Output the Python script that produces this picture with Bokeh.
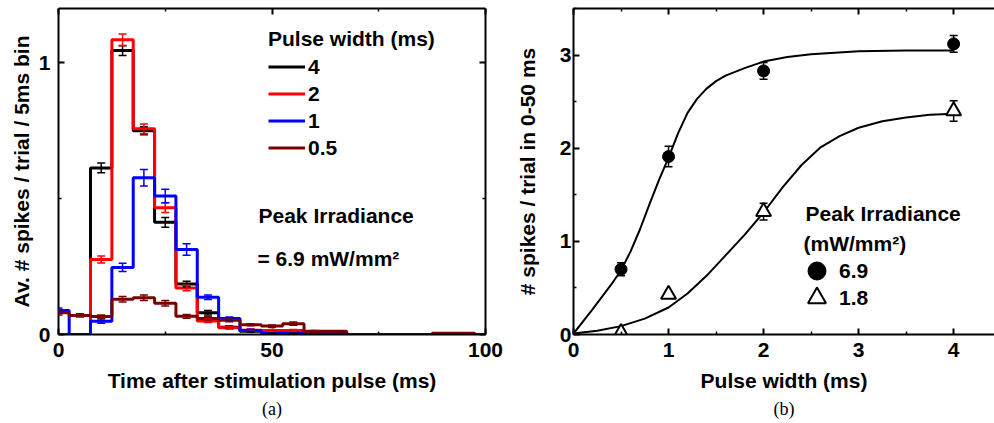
from bokeh.plotting import figure
from bokeh.models import (ColumnDataSource, Whisker, TeeHead, Legend, LegendItem,
                          Label, LinearAxis, FixedTicker, Range1d, Title)
from bokeh.layouts import row
from bokeh.embed import file_html
from bokeh.resources import INLINE

# ---------------- data: panel (a) ----------------
bin_centers = [0, 5, 10, 15, 20, 25, 30, 35, 40, 45, 50, 55, 60, 65, 70, 75, 80, 85, 90, 95, 100]
pw_4ms   = [0, 0, 0.613, 1.045, 0.75, 0.413, 0.186, 0.08, 0.027, 0.012, 0.008, 0.008, 0, 0, 0, 0, 0, 0, 0, 0, 0]
pw_2ms   = [0, 0, 0.276, 1.085, 0.757, 0.467, 0.171, 0.05, 0.025, 0.016, 0.015, 0.015, 0, 0, 0, 0, 0, 0, 0, 0, 0]
pw_1ms   = [0.088, 0, 0.049, 0.247, 0.577, 0.51, 0.313, 0.137, 0.059, 0.015, 0.005, 0.005, 0.005, 0.005, 0, 0, 0, 0, 0, 0, 0]
pw_05ms  = [0.08, 0.07, 0.066, 0.13, 0.135, 0.115, 0.067, 0.059, 0.052, 0.036, 0.031, 0.04, 0.012, 0.012, 0, 0, 0, 0, 0.005, 0.005, 0]
err_4ms  = [0, 0, 0.018, 0.018, 0.015, 0.018, 0.01, 0.008, 0.005, 0.004, 0.003, 0.003, 0, 0, 0, 0, 0, 0, 0, 0, 0]
err_2ms  = [0, 0, 0.013, 0.021, 0.018, 0.018, 0.01, 0.006, 0.005, 0.004, 0.003, 0.003, 0, 0, 0, 0, 0, 0, 0, 0, 0]
err_1ms  = [0.01, 0, 0.008, 0.015, 0.03, 0.025, 0.021, 0.008, 0.005, 0.004, 0, 0, 0, 0, 0, 0, 0, 0, 0, 0, 0]
err_05ms = [0.008, 0.006, 0.006, 0.01, 0.01, 0.01, 0.007, 0.006, 0.005, 0.004, 0.004, 0.006, 0.003, 0, 0, 0, 0, 0, 0, 0, 0]
series_names = ["4", "2", "1", "0.5"]
series_colors = ["#000000", "#ff0000", "#0000ff", "#7a0000"]

# ---------------- data: panel (b) ----------------
pulse_width = [0.5, 1, 2, 4]
spikes_69 = [0.70, 1.91, 2.83, 3.12]
err_69 = [0.07, 0.11, 0.09, 0.09]
spikes_18 = [0.02, 0.43, 1.32, 2.40]
err_18 = [0.02, 0.03, 0.09, 0.11]
fit_x_69 = [0, 0.2, 0.4, 0.5, 0.6, 0.7, 0.8, 0.9, 1.0, 1.1, 1.2, 1.3, 1.4, 1.5, 1.6, 1.8, 2.0, 2.25, 2.5, 3.0, 3.5, 4.0]
fit_y_69 = [0.01, 0.27, 0.54, 0.69, 0.89, 1.13, 1.40, 1.66, 1.90, 2.16, 2.38, 2.53, 2.64, 2.72, 2.78, 2.86, 2.93, 2.98, 3.01, 3.04, 3.05, 3.05]
fit_x_18 = [0, 0.25, 0.5, 0.75, 1.0, 1.2, 1.4, 1.6, 1.8, 2.0, 2.2, 2.4, 2.6, 2.8, 3.0, 3.25, 3.5, 3.75, 4.0]
fit_y_18 = [0.01, 0.04, 0.09, 0.17, 0.29, 0.44, 0.63, 0.85, 1.07, 1.31, 1.58, 1.82, 2.01, 2.13, 2.22, 2.29, 2.33, 2.36, 2.37]

a_xticks, a_xminor = [0, 50, 100], [25, 75]
a_yticks, a_yminor = [0, 1], [0.5]
b_xticks, b_xminor = [0, 1, 2, 3, 4], [0.5, 1.5, 2.5, 3.5]
b_yticks, b_yminor = [0, 1, 2, 3], [0.5, 1.5, 2.5, 3.5]

FONT = "Liberation Sans"
FS = "21px"
H = 423


def style_axis(ax, labels=True):
    ax.axis_line_width = 2
    ax.axis_line_color = "black"
    ax.major_tick_in = 6
    ax.major_tick_out = 0
    ax.minor_tick_in = 3
    ax.minor_tick_out = 0
    ax.major_tick_line_width = 2
    ax.minor_tick_line_width = 1.5
    ax.major_tick_line_color = "black"
    ax.minor_tick_line_color = "black"
    ax.major_label_text_font = FONT
    ax.major_label_text_font_style = "bold"
    ax.major_label_text_font_size = FS
    ax.major_label_text_color = "black"
    ax.axis_label_text_font = FONT
    ax.axis_label_text_font_style = "bold"
    ax.axis_label_text_font_size = FS
    ax.axis_label_text_color = "black"
    if not labels:
        ax.major_label_text_font_size = "0px"
        ax.major_label_text_color = None
        ax.major_label_standoff = 0


def base_fig(width, xr, yr, mb_left, mb_right):
    p = figure(width=width, height=H, x_range=Range1d(*xr), y_range=Range1d(*yr),
               output_backend="svg", toolbar_location=None,
               min_border_left=mb_left, min_border_right=mb_right,
               min_border_top=8, min_border_bottom=H - 334)
    p.xgrid.visible = False
    p.ygrid.visible = False
    p.outline_line_color = None
    p.background_fill_color = "white"
    p.border_fill_color = "white"
    return p


# ---------------- panel (a) ----------------
pa = base_fig(505, (0, 100), (0, 1.2), 58, 20)
pa.xaxis.ticker = FixedTicker(ticks=a_xticks, minor_ticks=a_xminor)
pa.yaxis.ticker = FixedTicker(ticks=a_yticks, minor_ticks=a_yminor)
pa.xaxis.axis_label = "Time after stimulation pulse (ms)"
pa.yaxis.axis_label = "Av. # spikes / trial / 5ms bin"
style_axis(pa.xaxis[0])
style_axis(pa.yaxis[0])
pa.xaxis.major_label_standoff = 8
pa.xaxis.axis_label_standoff = 9
pa.yaxis.major_label_standoff = 8
pa.yaxis.axis_label_standoff = 3
top_a = LinearAxis(ticker=FixedTicker(ticks=a_xticks, minor_ticks=a_xminor))
right_a = LinearAxis(ticker=FixedTicker(ticks=a_yticks, minor_ticks=a_yminor))
style_axis(top_a, labels=False)
style_axis(right_a, labels=False)
pa.add_layout(top_a, "above")
pa.add_layout(right_a, "right")

all_vals = [pw_4ms, pw_2ms, pw_1ms, pw_05ms]
all_errs = [err_4ms, err_2ms, err_1ms, err_05ms]
items = []
for name, col, vals, errs in zip(series_names, series_colors, all_vals, all_errs):
    src = ColumnDataSource(dict(x=bin_centers, y=vals))
    r = pa.step(x="x", y="y", source=src, mode="center", line_width=3, line_color=col)
    items.append(LegendItem(label=name, renderers=[r]))
    xs = [x for x, e in zip(bin_centers, errs) if e > 0]
    lo = [v - e for v, e in zip(vals, errs) if e > 0]
    hi = [v + e for v, e in zip(vals, errs) if e > 0]
    wsrc = ColumnDataSource(dict(x=xs, lower=lo, upper=hi))
    w = Whisker(base="x", lower="lower", upper="upper", source=wsrc, dimension="height",
                line_color=col, line_width=1.5, level="overlay",
                upper_head=TeeHead(size=8, line_color=col, line_width=1.5),
                lower_head=TeeHead(size=8, line_color=col, line_width=1.5))
    pa.add_layout(w)

leg_a = Legend(items=items, location=(210, 173), title="Pulse width (ms)",
               title_text_font=FONT, title_text_font_style="bold", title_text_font_size=FS,
               title_text_color="black",
               label_text_font=FONT, label_text_font_style="bold", label_text_font_size=FS,
               label_text_color="black",
               glyph_width=37, glyph_height=27, label_height=27, spacing=0, padding=0,
               margin=0, label_standoff=3, title_standoff=2,
               background_fill_alpha=0, border_line_alpha=0)
pa.add_layout(leg_a)

for txt, x, y in [("Peak Irradiance", 200, 119), ("= 6.9 mW/mm²", 199, 76)]:
    pa.add_layout(Label(x=x, y=y, x_units="screen", y_units="screen", text=txt,
                        text_font=FONT, text_font_style="bold", text_font_size=FS,
                        text_baseline="middle", text_align="left", text_color="black"))

pa.add_layout(Title(text="(a)", align="center", text_font="Liberation Serif",
                    text_font_size="18px", text_font_style="normal", standoff=4,
                    text_color="black"), "below")

# ---------------- panel (b) ----------------
pb = base_fig(489, (0, 4.43), (0, 3.5), 68, 0)
pb.xaxis.ticker = FixedTicker(ticks=b_xticks, minor_ticks=b_xminor)
pb.yaxis.ticker = FixedTicker(ticks=b_yticks, minor_ticks=b_yminor)
pb.xaxis.axis_label = "Pulse width (ms)"
pb.yaxis.axis_label = "# spikes / trial in 0-50 ms"
style_axis(pb.xaxis[0])
style_axis(pb.yaxis[0])
pb.xaxis.major_label_standoff = 8
pb.xaxis.axis_label_standoff = 9
pb.yaxis.major_label_standoff = 2
pb.yaxis.axis_label_standoff = 18
top_b = LinearAxis(ticker=FixedTicker(ticks=b_xticks, minor_ticks=b_xminor))
style_axis(top_b, labels=False)
pb.add_layout(top_b, "above")

pb.line(fit_x_69, fit_y_69, line_width=2, line_color="black")
pb.line(fit_x_18, fit_y_18, line_width=2, line_color="black")

for vals, errs in [(spikes_69, err_69), (spikes_18, err_18)]:
    wsrc = ColumnDataSource(dict(x=pulse_width,
                                 lower=[v - e for v, e in zip(vals, errs)],
                                 upper=[v + e for v, e in zip(vals, errs)]))
    pb.add_layout(Whisker(base="x", lower="lower", upper="upper", source=wsrc,
                          dimension="height", line_color="black", line_width=1.5,
                          upper_head=TeeHead(size=8, line_color="black", line_width=1.5),
                          lower_head=TeeHead(size=8, line_color="black", line_width=1.5)))

r69 = pb.scatter(pulse_width, spikes_69, marker="circle", size=12, fill_color="black",
                 line_color="black")
r18 = pb.scatter(pulse_width, spikes_18, marker="triangle", size=15, fill_color="white",
                 line_color="black", line_width=2)

for lab, rend, loc in [("6.9", r69, (221, 41)), ("1.8", r18, (221, 14))]:
    lg = Legend(items=[LegendItem(label=lab, renderers=[rend])], location=loc,
                label_text_font=FONT, label_text_font_style="bold", label_text_font_size=FS,
                label_text_color="black",
                glyph_width=45, glyph_height=45, label_height=45, spacing=0, padding=0,
                margin=0, label_standoff=0, background_fill_alpha=0, border_line_alpha=0)
    pb.add_layout(lg)

for txt, x, y in [("Peak Irradiance", 232, 121), ("(mW/mm²)", 230, 91)]:
    pb.add_layout(Label(x=x, y=y, x_units="screen", y_units="screen", text=txt,
                        text_font=FONT, text_font_style="bold", text_font_size=FS,
                        text_baseline="middle", text_align="left", text_color="black"))

pb.add_layout(Title(text="(b)", align="center", text_font="Liberation Serif",
                    text_font_size="18px", text_font_style="normal", standoff=4,
                    text_color="black"), "below")

layout = row(pa, pb)
open("out.html", "w").write(file_html(layout, INLINE))
